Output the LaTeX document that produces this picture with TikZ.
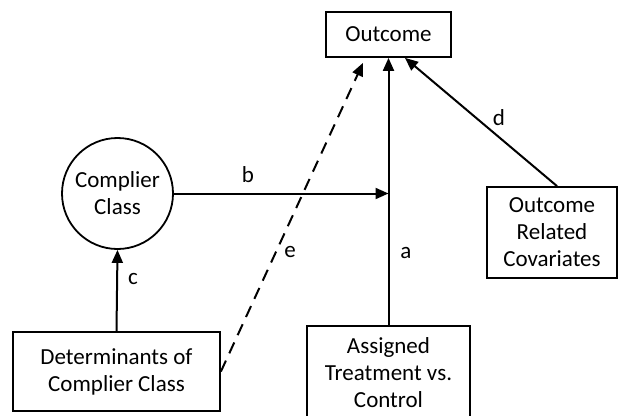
\documentclass[tikz,border=0pt]{standalone}
\usepackage{fontspec}
\setmainfont{Carlito}
\usetikzlibrary{arrows.meta}
\begin{document}
\begin{tikzpicture}[x=1pt,y=-1pt,
  every node/.style={font=\fontsize{23}{27}\selectfont},
  boxnode/.style={draw,line width=1.8pt,rectangle,align=center,inner sep=0pt},
  circnode/.style={draw,line width=1.8pt,circle,align=center,inner sep=0pt,minimum size=111pt},
  conn/.style={line width=2pt,-{Triangle[length=13pt,width=11pt]}},
  dconn/.style={conn,dash pattern=on 12pt off 8pt},
  lbl/.style={inner sep=0pt}]
\useasboundingbox (0,0) rectangle (618,415);
\node[boxnode,minimum width=125pt,minimum height=45pt] (O) at (388.5,34.5) {Outcome};
\node[circnode] (C) at (117.5,193.5) {Complier\\Class};
\node[boxnode,minimum width=207pt,minimum height=79pt] (D) at (116.5,371.5) {Determinants of\\Complier Class};
\node[boxnode,minimum width=163pt,minimum height=94pt] (A) at (388.5,373) {Assigned\\Treatment vs.\\Control};
\node[boxnode,minimum width=130pt,minimum height=91pt] (V) at (552,232.5) {Outcome\\Related\\Covariates};
\coordinate (m) at (A.north |- C.east);
\coordinate (etip) at ([xshift=-25.5pt,yshift=-5pt]O.south);
\coordinate (dtip) at ([xshift=16.5pt]O.south);
\draw[conn] (A.north) -- (O.south);
\draw[conn] (C.east) -- (m);
\draw[conn] (D.north) -- (C.south);
\draw[conn] ([xshift=5pt]V.north) -- (dtip);
\draw[dconn] (D.east) -- (etip);
\node[lbl] (la) at (406,253) {a};
\node[lbl] (lb) at (248,175) {b};
\node[lbl] (lc) at (133,279) {c};
\node[lbl] (ld) at (499,118) {d};
\node[lbl] (le) at (290,252) {e};
\end{tikzpicture}
\end{document}
